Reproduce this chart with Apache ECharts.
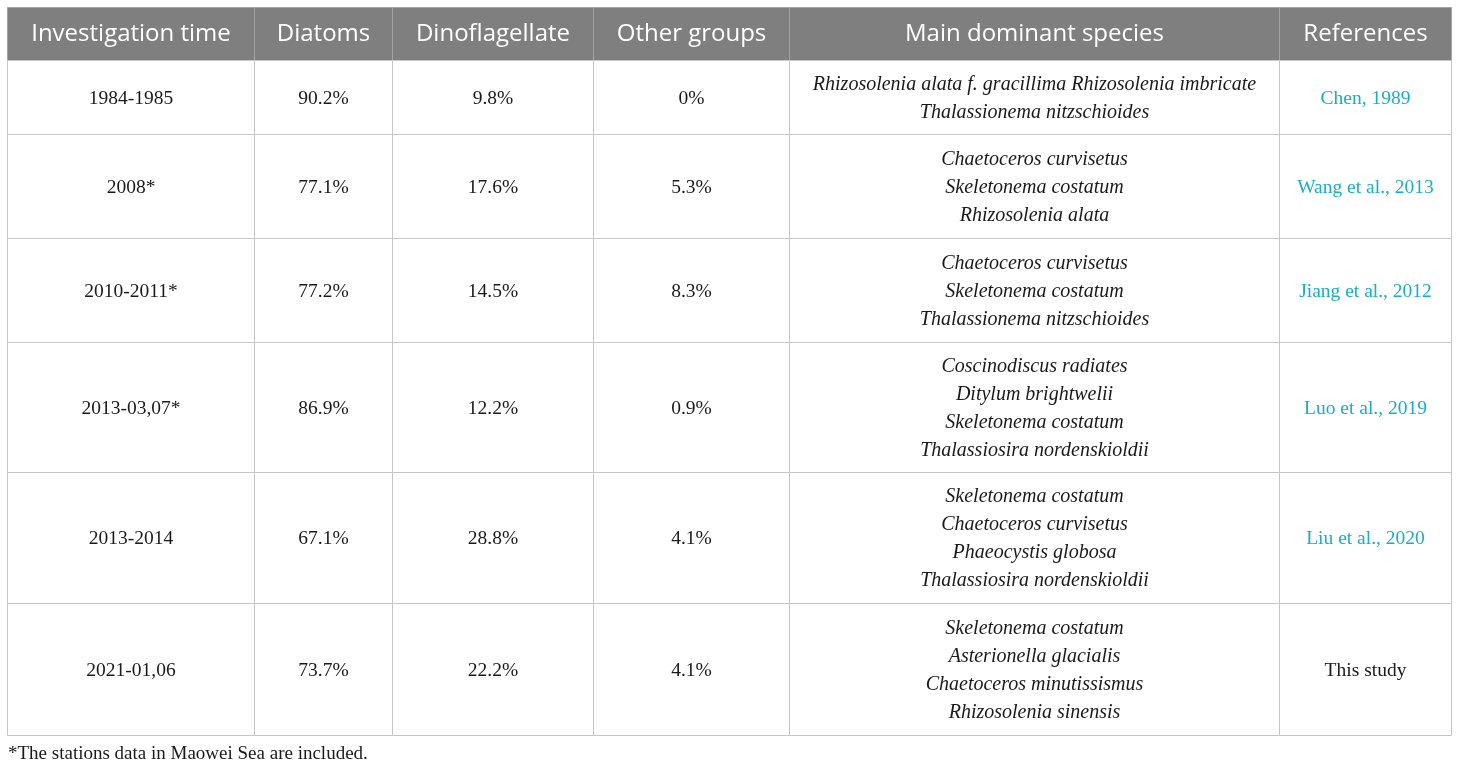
<!DOCTYPE html>
<html>
<head>
<meta charset="utf-8">
<script src="https://cdn.jsdelivr.net/npm/echarts@6/dist/echarts.min.js"></script>
<style>
  html, body { margin: 0; padding: 0; background: #fff; }
  #main { width: 1460px; height: 769px; }
</style>
</head>
<body>
<div id="main"></div>
<script>
// table content
var headers = ['Investigation time', 'Diatoms', 'Dinoflagellate', 'Other groups', 'Main dominant species', 'References'];
var times = ['1984-1985', '2008*', '2010-2011*', '2013-03,07*', '2013-2014', '2021-01,06'];
var diatoms = [90.2, 77.1, 77.2, 86.9, 67.1, 73.7];
var dinoflagellate = [9.8, 17.6, 14.5, 12.2, 28.8, 22.2];
var otherGroups = [0, 5.3, 8.3, 0.9, 4.1, 4.1];
var species = [
  ['Rhizosolenia alata f. gracillima Rhizosolenia imbricate', 'Thalassionema nitzschioides'],
  ['Chaetoceros curvisetus', 'Skeletonema costatum', 'Rhizosolenia alata'],
  ['Chaetoceros curvisetus', 'Skeletonema costatum', 'Thalassionema nitzschioides'],
  ['Coscinodiscus radiates', 'Ditylum brightwelii', 'Skeletonema costatum', 'Thalassiosira nordenskioldii'],
  ['Skeletonema costatum', 'Chaetoceros curvisetus', 'Phaeocystis globosa', 'Thalassiosira nordenskioldii'],
  ['Skeletonema costatum', 'Asterionella glacialis', 'Chaetoceros minutissismus', 'Rhizosolenia sinensis']
];
var references = ['Chen, 1989', 'Wang et al., 2013', 'Jiang et al., 2012', 'Luo et al., 2019', 'Liu et al., 2020', 'This study'];
var linked = [true, true, true, true, true, false];
var footnote = '*The stations data in Maowei Sea are included.';

// layout (table units = pixels)
var colEdges = [0, 247, 385, 586, 782, 1272, 1444];
var rowEdges = [0, 53, 127, 231, 335, 465, 596, 728];

function pct(v) {
  return v === 0 ? '0%' : v.toFixed(1) + '%';
}

// one item per cell
var cells = [];
headers.forEach(function (h, c) {
  cells.push({ value: [c, 0], text: h, kind: 'head' });
});
times.forEach(function (t, i) {
  var r = i + 1;
  cells.push({ value: [0, r], text: t, kind: 'body' });
  cells.push({ value: [1, r], text: pct(diatoms[i]), kind: 'body' });
  cells.push({ value: [2, r], text: pct(dinoflagellate[i]), kind: 'body' });
  cells.push({ value: [3, r], text: pct(otherGroups[i]), kind: 'body' });
  cells.push({ value: [4, r], text: species[i].join('\n'), kind: 'species' });
  cells.push({ value: [5, r], text: references[i], kind: linked[i] ? 'link' : 'body' });
});

function renderCell(params, api) {
  var c = api.value(0), r = api.value(1);
  var cell = cells[params.dataIndex];
  var p0 = api.coord([colEdges[c], rowEdges[r]]);
  var p1 = api.coord([colEdges[c + 1], rowEdges[r + 1]]);
  var head = cell.kind === 'head';
  var font = head ? '24px "Open Sans"' :
    (cell.kind === 'species' ? 'italic 20px "Liberation Serif"' : '19.5px "Liberation Serif"');
  var color = head ? '#ffffff' : (cell.kind === 'link' ? '#19aec6' : '#1a1a1a');
  return {
    type: 'group',
    children: [{
      type: 'rect',
      shape: { x: p0[0], y: p0[1], width: p1[0] - p0[0], height: p1[1] - p0[1] },
      style: { fill: head ? '#7f7f7f' : '#ffffff', stroke: head ? '#a3a3a3' : '#c6c6c6', lineWidth: 1 }
    }, {
      type: 'text',
      style: {
        text: cell.text,
        x: (p0[0] + p1[0]) / 2,
        y: (p0[1] + p1[1]) / 2 + (head ? 0 : 1),
        align: 'center',
        verticalAlign: 'middle',
        font: font,
        lineHeight: 28,
        fill: color
      }
    }]
  };
}

var myChart = echarts.init(document.getElementById('main'));
var option = {
  animation: false,
  grid: { left: 7.5, top: 7.5, width: 1444, height: 728 },
  xAxis: { type: 'value', min: 0, max: 1444, show: false },
  yAxis: { type: 'value', min: 0, max: 728, inverse: true, show: false },
  graphic: [{
    type: 'text',
    left: 8,
    top: 745,
    style: { text: footnote, font: '19px "Liberation Serif"', fill: '#1a1a1a' }
  }],
  series: [{
    type: 'custom',
    clip: false,
    renderItem: renderCell,
    data: cells
  }]
};
myChart.setOption(option);
</script>
</body>
</html>
